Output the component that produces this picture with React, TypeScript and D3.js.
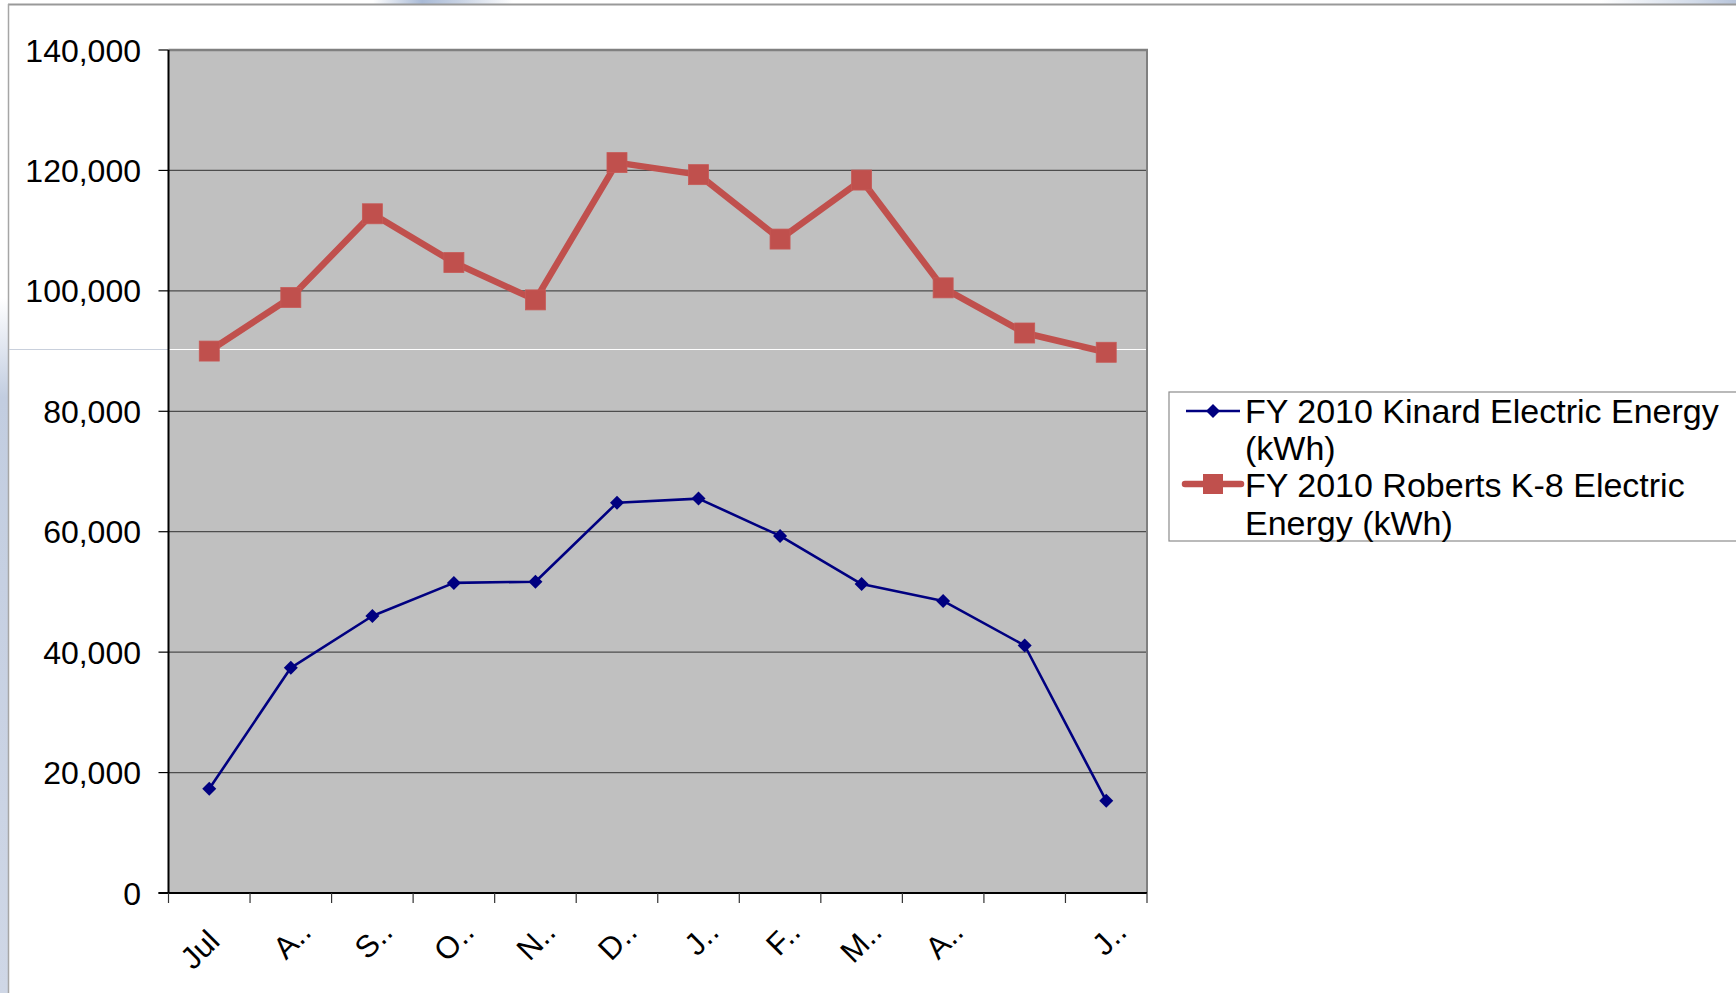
import React from "react";
import * as d3 from "d3";

// Fiscal-year months (July through June)
const months = ["Jul", "Aug", "Sep", "Oct", "Nov", "Dec", "Jan", "Feb", "Mar", "Apr", "May", "Jun"];
// Category labels as they appear on the axis (truncated by the chart layout)
const monthLabels = ["Jul", "A..", "S..", "O..", "N..", "D..", "J..", "F..", "M..", "A..", "", "J.."];

// Monthly electric energy use, kWh
const kinardKwh = [17300, 37400, 46000, 51500, 51700, 64800, 65500, 59300, 51300, 48500, 41100, 15300];
const robertsKwh = [90000, 98900, 112800, 104700, 98500, 121300, 119300, 108600, 118400, 100500, 93000, 89800];

const yTicks = [0, 20000, 40000, 60000, 80000, 100000, 120000, 140000];

const seriesNames = ["FY 2010 Kinard Electric Energy", "(kWh)"];
const seriesNames2 = ["FY 2010 Roberts K-8 Electric", "Energy (kWh)"];

const W = 1736;
const H = 993;
const FONT = "'Liberation Sans', Arial, Helvetica, sans-serif";

export default function App() {
  const plot = { left: 168.5, right: 1147, top: 50, bottom: 893 };

  const x = d3.scaleBand<string>().domain(months).range([plot.left, plot.right]).padding(0);
  const y = d3.scaleLinear().domain([0, 140000]).range([plot.bottom, plot.top]);
  const cx = (m: string) => (x(m) as number) + x.bandwidth() / 2;

  const line = d3
    .line<number>()
    .x((_, i) => cx(months[i]))
    .y((v) => y(v));

  const fmt = d3.format(",");
  const tickEdges = d3.range(months.length + 1).map((i) => plot.left + i * x.bandwidth());

  const blue = "#000080";
  const red = "#C0504D";

  const diamond = (px: number, py: number, r: number) =>
    `M${px},${py - r}L${px + r},${py}L${px},${py + r}L${px - r},${py}Z`;

  // legend geometry
  const lg = { left: 1169, top: 392, bottom: 541, textX: 1245 };

  return (
    <svg
      width={W}
      height={H}
      style={{ position: "absolute", left: 0, top: 0, background: "#fff" }}
      fontFamily={FONT}
    >
      <defs>
        <linearGradient id="topGlowA" x1="0" x2="1" y1="0" y2="0">
          <stop offset="0" stopColor="#ffffff" />
          <stop offset="0.35" stopColor="#a9bad6" />
          <stop offset="0.6" stopColor="#c6d1e3" />
          <stop offset="1" stopColor="#ffffff" />
        </linearGradient>
        <linearGradient id="topGlowB" x1="0" x2="1" y1="0" y2="0">
          <stop offset="0" stopColor="#ffffff" />
          <stop offset="0.7" stopColor="#d2dbe9" />
          <stop offset="1" stopColor="#b7c4da" />
        </linearGradient>
        <linearGradient id="leftGlow" x1="0" x2="0" y1="0" y2="1">
          <stop offset="0" stopColor="#ffffff" />
          <stop offset="0.3" stopColor="#ffffff" />
          <stop offset="0.4" stopColor="#c2cde0" />
          <stop offset="1" stopColor="#cfd7e6" />
        </linearGradient>
        <linearGradient id="rightRule" x1="0" x2="1" y1="0" y2="0">
          <stop offset="0" stopColor="#ffffff" />
          <stop offset="0.5" stopColor="#d6dbe6" />
          <stop offset="1" stopColor="#c8cfdd" />
        </linearGradient>
      </defs>

      {/* slide backdrop */}
      <rect x={0} y={0} width={W} height={H} fill="#ffffff" />
      <rect x={373} y={0} width={140} height={4} fill="url(#topGlowA)" />
      <rect x={1600} y={0} width={136} height={4} fill="url(#topGlowB)" />
      <rect x={0} y={0} width={8} height={H} fill="url(#leftGlow)" />
      <line x1={8} x2={W} y1={4.5} y2={4.5} stroke="#999" strokeWidth={2} />
      <line x1={8.5} x2={8.5} y1={4} y2={H} stroke="#a6a6a6" strokeWidth={1.5} />
      <line x1={9} x2={plot.left} y1={349.5} y2={349.5} stroke="#c9d0dc" strokeWidth={1.2} />
      <line x1={1320} x2={W} y1={349.5} y2={349.5} stroke="url(#rightRule)" strokeWidth={1.2} />

      {/* plot area */}
      <rect
        x={plot.left}
        y={plot.top}
        width={plot.right - plot.left}
        height={plot.bottom - plot.top}
        fill="#C0C0C0"
      />

      {/* horizontal gridlines */}
      {yTicks
        .filter((t) => t > 0 && t < 140000)
        .map((t) => (
          <line
            key={t}
            x1={plot.left}
            x2={plot.right}
            y1={y(t)}
            y2={y(t)}
            stroke="#4d4d4d"
            strokeWidth={1.2}
          />
        ))}

      {/* backdrop rule crossing the plot */}
      <line x1={plot.left} x2={plot.right} y1={349.5} y2={349.5} stroke="#ffffff" strokeWidth={1.2} />

      {/* plot frame */}
      <line x1={plot.left} x2={plot.right + 1} y1={plot.top} y2={plot.top} stroke="#808080" strokeWidth={2.5} />
      <line x1={plot.right} x2={plot.right} y1={plot.top} y2={plot.bottom} stroke="#808080" strokeWidth={2} />

      {/* y axis */}
      <line x1={plot.left} x2={plot.left} y1={plot.top} y2={plot.bottom} stroke="#000" strokeWidth={2} />
      {yTicks.map((t) => (
        <g key={t}>
          <line x1={plot.left - 10} x2={plot.left} y1={y(t)} y2={y(t)} stroke="#000" strokeWidth={1.2} />
          <text x={141} y={y(t)} dy="0.36em" textAnchor="end" fontSize={32} fill="#000">
            {fmt(t)}
          </text>
        </g>
      ))}

      {/* x axis */}
      <line x1={plot.left - 10} x2={plot.right} y1={plot.bottom} y2={plot.bottom} stroke="#000" strokeWidth={2} />
      {tickEdges.map((tx, i) => (
        <line key={i} x1={tx} x2={tx} y1={plot.bottom} y2={plot.bottom + 10} stroke="#333" strokeWidth={1.2} />
      ))}
      {months.map((m, i) => {
        const ax = cx(m) + (i === 0 ? 12 : 22);
        const ay = i === 0 ? 943 : 934;
        return (
          <text
            key={m}
            x={ax}
            y={ay}
            textAnchor="end"
            fontSize={31}
            fill="#000"
            transform={`rotate(-45 ${ax} ${ay})`}
          >
            {monthLabels[i]}
          </text>
        );
      })}

      {/* Roberts K-8 series */}
      <path d={line(robertsKwh) ?? ""} fill="none" stroke={red} strokeWidth={6.5} strokeLinejoin="round" />
      {robertsKwh.map((v, i) => (
        <rect key={i} x={cx(months[i]) - 10} y={y(v) - 10} width={20} height={20} fill={red} stroke="#c65a57" strokeWidth={0.8} />
      ))}

      {/* Kinard series */}
      <path d={line(kinardKwh) ?? ""} fill="none" stroke={blue} strokeWidth={2.6} strokeLinejoin="round" />
      {kinardKwh.map((v, i) => (
        <path key={i} d={diamond(cx(months[i]), y(v), 7)} fill={blue} />
      ))}

      {/* legend */}
      <rect
        x={lg.left}
        y={lg.top}
        width={W - lg.left + 10}
        height={lg.bottom - lg.top}
        fill="#ffffff"
        stroke="#8c8c8c"
        strokeWidth={1.2}
      />
      <line x1={1186} x2={1240} y1={411} y2={411} stroke={blue} strokeWidth={2.5} />
      <path d={diamond(1213, 411, 7)} fill={blue} />
      <line x1={1185} x2={1241} y1={484} y2={484} stroke={red} strokeWidth={6.5} strokeLinecap="round" />
      <rect x={1203} y={474} width={20} height={20} fill={red} />
      {seriesNames.map((s, i) => (
        <text key={s} x={lg.textX} y={423 + i * 36.5} fontSize={34} fill="#000">
          {s}
        </text>
      ))}
      {seriesNames2.map((s, i) => (
        <text key={s} x={lg.textX} y={497 + i * 37.5} fontSize={34} fill="#000">
          {s}
        </text>
      ))}
    </svg>
  );
}
